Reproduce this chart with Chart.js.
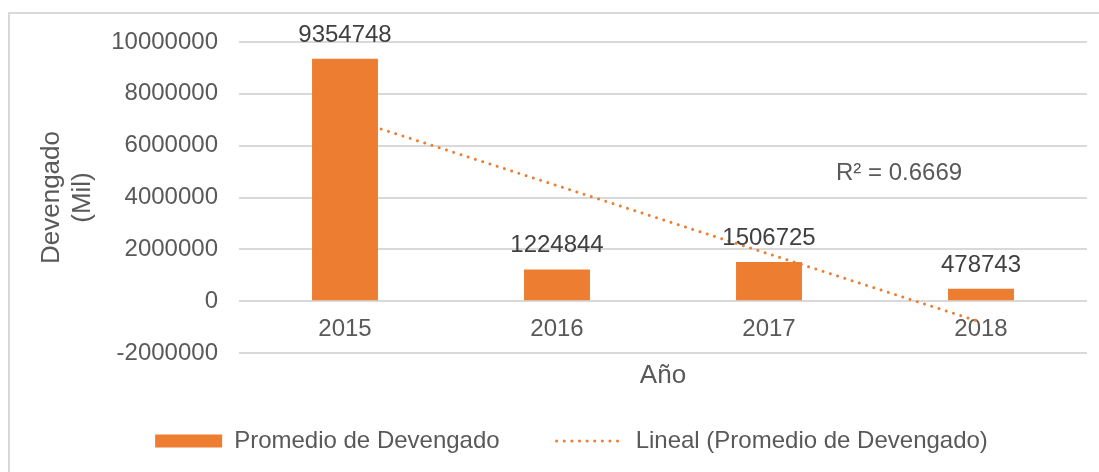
<!DOCTYPE html>
<html>
<head>
<meta charset="utf-8">
<script src="https://cdn.jsdelivr.net/npm/chart.js@4.4.1/dist/chart.umd.min.js"></script>
<style>
  html, body { margin: 0; padding: 0; background: #ffffff; overflow: hidden; }
  #wrap { position: relative; width: 1099px; height: 472px; overflow: hidden; }
  #frame { position: absolute; left: 8px; top: 12px; width: 2000px; height: 2000px; border: 2px solid #d9d9d9; box-sizing: border-box; }
  #c { position: absolute; left: 0; top: 0; }
</style>
</head>
<body>
<div id="wrap">
  <div id="frame"></div>
  <canvas id="c" width="1099" height="472"></canvas>
</div>
<script>
// ---- data ----
const categories = ['2015', '2016', '2017', '2018'];
const seriesName = 'Promedio de Devengado';
const seriesValues = [9354748, 1224844, 1506725, 478743];
const trendName = 'Lineal (Promedio de Devengado)';
const trendValues = [7090000, 4460000, 1820000, -810000];
const rSquaredLabel = 'R² = 0.6669';
const yTickMin = -2000000;
const yTickMax = 10000000;
const yTickStep = 2000000;
const xAxisTitle = 'Año';
const yAxisTitle = ['Devengado', '(Mil)'];

const ORANGE = '#ED7D31';
const TEXT = '#595959';
const LABEL = '#404040';
const GRID = '#d9d9d9';
const FONT = "'Liberation Sans', Arial, sans-serif";

Chart.defaults.font.family = FONT;
Chart.defaults.color = TEXT;

const barLabels = {
  id: 'barLabels',
  afterDatasetsDraw(chart) {
    const ctx = chart.ctx;
    const meta = chart.getDatasetMeta(0);
    ctx.save();
    ctx.font = '24px ' + FONT;
    ctx.fillStyle = LABEL;
    ctx.textAlign = 'center';
    ctx.textBaseline = 'alphabetic';
    meta.data.forEach((el, i) => {
      ctx.fillText(String(seriesValues[i]), el.x, el.y - 17);
    });
    ctx.restore();
  }
};

const rSquared = {
  id: 'rSquared',
  afterDraw(chart) {
    const ctx = chart.ctx;
    ctx.save();
    ctx.font = '24px ' + FONT;
    ctx.fillStyle = TEXT;
    ctx.textAlign = 'left';
    ctx.textBaseline = 'middle';
    ctx.fillText(rSquaredLabel, 836, 173);
    ctx.restore();
  }
};

const legendShift = {
  id: 'legendShift',
  afterLayout(chart) {
    const lg = chart.legend;
    if (!lg) return;
    const dx = 28, dy = 19;
    lg.left += dx; lg.right += dx;
    lg.top += dy; lg.bottom += dy;
  }
};

new Chart(document.getElementById('c'), {
  type: 'bar',
  data: {
    labels: categories,
    datasets: [
      {
        type: 'bar',
        label: seriesName,
        data: seriesValues,
        backgroundColor: ORANGE,
        borderWidth: 0,
        barPercentage: 0.311,
        categoryPercentage: 1,
        order: 0
      },
      {
        type: 'line',
        label: trendName,
        data: trendValues,
        borderColor: ORANGE,
        backgroundColor: ORANGE,
        borderWidth: 3,
        borderDash: [0.01, 7.6],
        borderCapStyle: 'round',
        pointRadius: 0,
        pointHoverRadius: 0,
        fill: false,
        tension: 0,
        order: 1
      }
    ]
  },
  options: {
    responsive: false,
    animation: false,
    devicePixelRatio: 1,
    layout: { padding: { top: 42, right: 12, bottom: 28, left: 0 } },
    scales: {
      x: {
        position: { y: 0 },
        offset: true,
        grid: { display: false, drawTicks: false },
        border: { display: false },
        ticks: { color: TEXT, font: { size: 24 }, padding: 14 },
        title: {
          display: true, text: xAxisTitle, color: TEXT,
          font: { size: 26 }, padding: { top: 2, bottom: 0 }
        }
      },
      y: {
        min: yTickMin,
        max: yTickMax,
        ticks: {
          stepSize: yTickStep, color: TEXT, font: { size: 24 }, padding: 21,
          callback: (v) => String(v)
        },
        grid: { color: GRID, lineWidth: 2, drawTicks: false },
        border: { display: false },
        title: {
          display: true, text: yAxisTitle, color: TEXT,
          font: { size: 26, lineHeight: 1.2 }, padding: { top: 36, bottom: 0 }
        },
        afterFit(scale) { scale.width = 239; }
      }
    },
    plugins: {
      tooltip: { enabled: false },
      legend: {
        position: 'bottom',
        labels: {
          color: TEXT,
          font: { size: 24 },
          padding: 57,
          usePointStyle: true,
          pointStyleWidth: 67,
          boxHeight: 13,
          generateLabels(chart) {
            const items = Chart.defaults.plugins.legend.labels.generateLabels(chart);
            items.forEach(it => {
              const ds = chart.data.datasets[it.datasetIndex];
              if (ds.type === 'line') {
                it.pointStyle = 'line';
                it.strokeStyle = ORANGE;
                it.fillStyle = 'rgba(0,0,0,0)';
                it.lineWidth = 3;
                it.lineDash = [0.01, 7.6];
                it.lineCap = 'round';
              } else {
                it.pointStyle = 'rect';
                it.fillStyle = ORANGE;
                it.lineWidth = 0;
              }
            });
            return items;
          }
        }
      }
    }
  },
  plugins: [barLabels, rSquared, legendShift]
});
</script>
</body>
</html>
